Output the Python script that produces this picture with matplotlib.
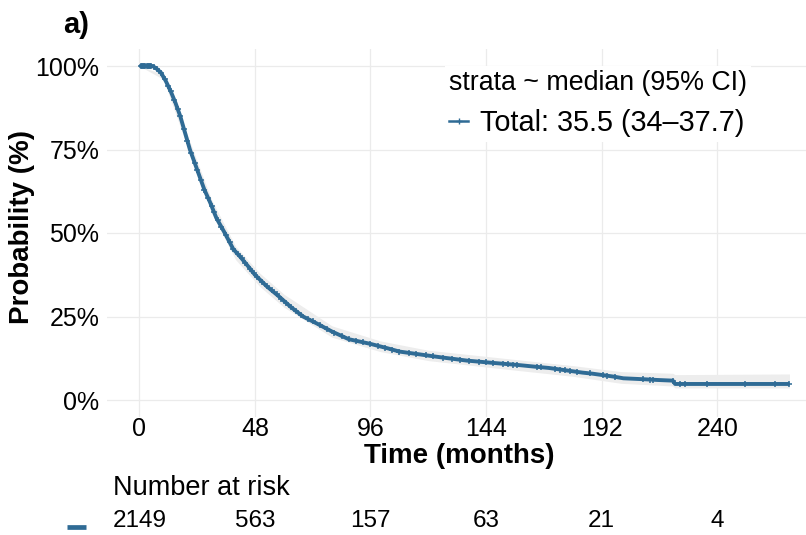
import matplotlib
matplotlib.use("Agg")
import matplotlib.pyplot as plt
import matplotlib.transforms as mtransforms
from matplotlib.lines import Line2D
import numpy as np

plt.rcParams['font.family'] = ['Liberation Sans', 'DejaVu Sans']

# ---------------- data ----------------
time_months = [0, 3, 5.5, 7, 9, 11, 13, 15, 17, 19, 21, 23, 25, 27, 29.5, 32, 35.5,
               39, 42, 45, 48, 53, 58, 63, 68, 74, 80, 87, 96, 103, 108, 115, 125,
               136, 147, 157, 164, 170, 174, 180, 184, 188, 192, 197, 201, 210, 215,
               221.5, 222.5, 230, 240, 250, 260, 270]
survival = [1.0, 1.0, 1.0, 0.993, 0.98, 0.955, 0.925, 0.89, 0.85, 0.80, 0.75, 0.71,
            0.67, 0.63, 0.59, 0.545, 0.50, 0.452, 0.428, 0.402, 0.375, 0.34, 0.31,
            0.278, 0.25, 0.228, 0.205, 0.182, 0.168, 0.155, 0.145, 0.138, 0.128,
            0.118, 0.111, 0.105, 0.100, 0.096, 0.092, 0.086, 0.082, 0.079, 0.075,
            0.070, 0.065, 0.062, 0.060, 0.058, 0.048, 0.048, 0.048, 0.048, 0.048, 0.048]

ci_time = [0, 10, 20, 30, 40, 50, 60, 80, 100, 120, 150, 180, 200, 221.5, 222.5, 270]
ci_lower = [1.0, 0.96, 0.757, 0.56, 0.42, 0.34, 0.278, 0.188, 0.145, 0.118, 0.094,
            0.071, 0.05, 0.042, 0.036, 0.036]
ci_upper = [1.0, 0.975, 0.793, 0.60, 0.46, 0.38, 0.317, 0.222, 0.177, 0.149, 0.126,
            0.103, 0.085, 0.08, 0.076, 0.078]

censor_times = [0.5, 1, 1.5, 2, 2.5, 3, 3.5, 4, 4.5, 5, 6, 7.5, 9, 10.5, 12, 13, 14.5,
                16, 17, 18.5, 20, 21.5, 23, 24, 25.5, 27, 28.5, 30, 31, 32.5, 34, 36,
                37.5, 39, 41, 42.5, 44, 46, 47.5, 49, 51, 53, 55, 57, 59, 61, 63, 65,
                67, 70, 72, 75, 78, 81, 84, 87, 90, 93, 96, 99, 102, 105, 108, 112,
                115, 119, 122, 126, 130, 133, 137, 141, 144, 147, 151, 153, 155, 157,
                165, 167, 172.6, 174.7, 176.8, 178.9, 181.6, 187.2, 192.7, 194.1,
                197.6, 209.3, 212.1, 213.2, 221.5, 224.5, 226.6, 235.6, 251.5, 264, 270]

x_ticks = [0, 48, 96, 144, 192, 240]
y_ticks = [0, 0.25, 0.5, 0.75, 1.0]
y_tick_labels = ['0%', '25%', '50%', '75%', '100%']
risk_times = [0, 48, 96, 144, 192, 240]
risk_counts = [2149, 563, 157, 63, 21, 4]

legend_title = 'strata ~ median (95% CI)'
legend_label = 'Total: 35.5 (34\u201337.7)'

# ---------------- styling ----------------
COL = '#2F6B95'
W, H = 806, 535
fig = plt.figure(figsize=(W / 100, H / 100), dpi=100)
L, R, T, B = 106.8, 822.0, 49.3, 416.7
ax = fig.add_axes([L / W, 1 - B / H, (R - L) / W, (B - T) / H])
ax.set_xlim(-13.5, 283.5)
ax.set_ylim(-0.05, 1.05)

for s in ax.spines.values():
    s.set_visible(False)
ax.grid(True, color='#EBEBEB', lw=0.9)
ax.set_axisbelow(True)
ax.set_xticks(x_ticks)
ax.set_yticks(y_ticks)
ax.set_yticklabels(y_tick_labels)
ax.tick_params(axis='both', length=0, labelsize=18, colors='black')
ax.tick_params(axis='y', pad=5.4)
ax.tick_params(axis='x', pad=0.3)

# confidence band
ax.fill_between(ci_time, ci_lower, ci_upper, color='#EDEDED', lw=0, zorder=1)
# curve
ax.plot(time_months, survival, color=COL, lw=2.8, zorder=3, solid_joinstyle='round',
        solid_capstyle='butt')
# censor marks on the curve
cens_y = np.interp(censor_times, time_months, survival)
ax.plot(censor_times, cens_y, ls='none', marker='+', ms=4.2, mew=1.1, color=COL, zorder=4)

# legend
handle = Line2D([], [], color=COL, lw=1.8, marker='+', ms=4.5, mew=1.0)
leg = ax.legend([handle], [legend_label], title=legend_title, loc='upper left',
                bbox_to_anchor=(444.7 / W, 1 - 66.1 / H), bbox_transform=fig.transFigure,
                borderaxespad=0, borderpad=0.15, frameon=True, fancybox=False,
                facecolor='white', edgecolor='none', framealpha=1, fontsize=20.8,
                title_fontsize=19.3, alignment='left', handlelength=0.66,
                handletextpad=0.41, labelspacing=0.45, numpoints=1)
leg.set_zorder(10)

# axis titles
fig.text(459 / W, 1 - 463 / H, 'Time (months)', fontsize=20, fontweight='bold',
         ha='center', va='baseline')
fig.text(22.5 / W, 1 - 227 / H, 'Probability (%)', fontsize=20, fontweight='bold',
         rotation=90, ha='center', va='center')
fig.text(62.7 / W, 1 - 33.3 / H, 'a)', fontsize=21, fontweight='bold',
         ha='left', va='baseline')

# number at risk table
fig.text(113.3 / W, 1 - 495 / H, 'Number at risk', fontsize=19.5, ha='left', va='baseline')
blend = mtransforms.blended_transform_factory(ax.transData, fig.transFigure)
for t, n in zip(risk_times, risk_counts):
    fig.text(t, 1 - 526.7 / H, str(n), transform=blend, fontsize=17.5,
             ha='center', va='baseline')
fig.add_artist(Line2D([67 / W, 86 / W], [1 - 526.7 / H] * 2, lw=3.4, color=COL,
                      solid_capstyle='butt'))

fig.savefig('out.png', dpi=100)
